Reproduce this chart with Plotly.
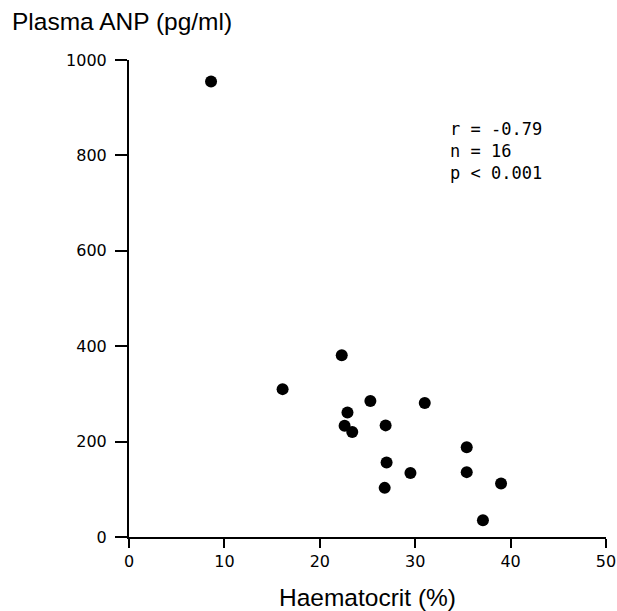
import plotly.graph_objects as go

haematocrit = [8.6, 16.1, 22.3, 25.3, 31.0, 22.9, 22.6, 23.4, 26.9, 35.4, 27.0, 29.5, 35.4, 26.8, 39.0, 37.1]
plasma_anp = [955, 310, 381, 285, 281, 261, 233, 220, 234, 188, 156, 134, 136, 103, 112, 35]

x_ticks = [0, 10, 20, 30, 40, 50]
y_ticks = [0, 200, 400, 600, 800, 1000]
stats_lines = ["r = -0.79", "n = 16", "p < 0.001"]

fig = go.Figure()
fig.add_trace(go.Scatter(
    x=haematocrit, y=plasma_anp, mode="markers",
    marker=dict(color="black", size=12),
    showlegend=False, hoverinfo="skip"))

axis_common = dict(
    showgrid=False, zeroline=False, showline=True, linecolor="black", linewidth=2,
    ticks="outside", tickcolor="black", tickwidth=2,
    tickfont=dict(family="DejaVu Sans", size=16, color="black"))

fig.update_xaxes(range=[0, 50], tickvals=x_ticks, ticklen=9,
                 title=dict(text="Haematocrit (%)", font=dict(family="Liberation Sans", size=24.5, color="black"), standoff=19),
                 **axis_common)
fig.update_yaxes(range=[0, 1000], tickvals=y_ticks, ticklen=12, ticklabelstandoff=5, **axis_common)

fig.add_annotation(
    x=33.4, y=880, xref="x", yref="y", xanchor="left", yanchor="top",
    text="<br>".join(stats_lines), showarrow=False, align="left",
    font=dict(family="DejaVu Sans Mono", size=17, color="black"))
fig.add_annotation(
    x=-119/477, y=1 + 38/477, xref="paper", yref="paper", xanchor="left", yanchor="middle",
    text="Plasma ANP (pg/ml)", showarrow=False,
    font=dict(family="Liberation Sans", size=24.5, color="black"))

fig.update_layout(
    width=617, height=611,
    margin=dict(l=129, r=11, t=60, b=74, autoexpand=False),
    plot_bgcolor="white", paper_bgcolor="white",
    font=dict(family="Liberation Sans", color="black"))

fig.write_html("out.html")
